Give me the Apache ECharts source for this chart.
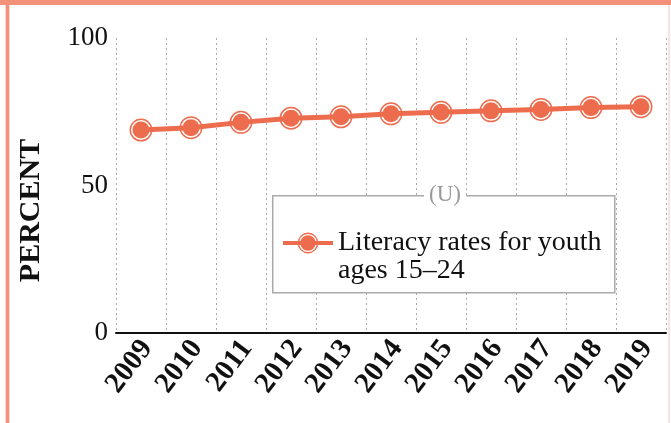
<!DOCTYPE html>
<html>
<head>
<meta charset="utf-8">
<script src="https://cdn.jsdelivr.net/npm/echarts@6/dist/echarts.min.js"></script>
<style>
  html, body { margin: 0; padding: 0; background: #fff; }
  #chart { width: 671px; height: 423px; }
</style>
</head>
<body>
<div id="chart"></div>
<script>
// Youth literacy rate, percent
const years = ['2009', '2010', '2011', '2012', '2013', '2014', '2015', '2016', '2017', '2018', '2019'];
const literacyRates = [68.8, 69.6, 71.4, 72.8, 73.3, 74.3, 74.8, 75.3, 75.8, 76.4, 76.7];
const yTicks = [0, 50, 100];

const seriesName = 'Literacy rates for youth ages 15–24';
const serif = '"Liberation Serif", "DejaVu Serif", serif';
const accent = '#EC6C4D';
const frame = '#F4917A';

// Marker: solid disk inside a thin ring (ring drawn with reversed winding for the hole)
const ringMarker = 'path://' +
  'M0 11.5A11.5 11.5 0 1 0 23 11.5A11.5 11.5 0 1 0 0 11.5Z' +
  'M1.5 11.5A10 10 0 1 1 21.5 11.5A10 10 0 1 1 1.5 11.5Z' +
  'M3 11.5A8.5 8.5 0 1 0 20 11.5A8.5 8.5 0 1 0 3 11.5Z';

const chart = echarts.init(document.getElementById('chart'), null, { renderer: 'canvas' });

chart.setOption({
  animation: false,
  backgroundColor: '#fff',
  textStyle: { fontFamily: serif },
  grid: { left: 116, right: 5, top: 38, bottom: 90, containLabel: false },
  xAxis: {
    type: 'category',
    data: years,
    boundaryGap: true,
    axisLine: { show: true, lineStyle: { color: '#111', width: 2 } },
    axisTick: { show: false },
    axisLabel: {
      interval: 0,
      rotate: 53,
      margin: 6,
      // an empty leading line nudges each slanted year down-right of its slot centre
      formatter: (v) => '\n' + v,
      lineHeight: 15,
      fontFamily: serif,
      fontWeight: 'bold',
      fontSize: 29,
      color: '#111'
    },
    splitLine: {
      show: true,
      interval: 0,
      lineStyle: { color: '#aaa', width: 1, type: [2, 3] }
    }
  },
  yAxis: {
    type: 'value',
    min: yTicks[0],
    max: yTicks[yTicks.length - 1],
    interval: yTicks[1] - yTicks[0],
    name: 'PERCENT',
    nameLocation: 'middle',
    nameRotate: 90,
    nameGap: 70,
    nameTextStyle: {
      fontFamily: serif,
      fontWeight: 'bold',
      fontSize: 30,
      color: '#111',
      padding: [0, 50, 0, 0]
    },
    axisLine: { show: false },
    axisTick: { show: false },
    splitLine: { show: false },
    axisLabel: { fontFamily: serif, fontSize: 27, color: '#111', margin: 8 }
  },
  legend: {
    show: true,
    left: 281,
    top: 201,
    padding: 0,
    itemWidth: 50,
    itemHeight: 26,
    selectedMode: false,
    data: [seriesName],
    lineStyle: { width: 4 },
    // first line sits level with the icon, the second wraps below it
    formatter: () => '\nLiteracy rates for youth\nages 15–24',
    textStyle: {
      fontFamily: serif,
      fontSize: 28,
      lineHeight: 28,
      color: '#111'
    }
  },
  series: [{
    name: seriesName,
    type: 'line',
    data: literacyRates,
    symbol: ringMarker,
    symbolSize: 23,
    lineStyle: { color: accent, width: 5 },
    itemStyle: { color: accent }
  }],
  graphic: [
    // page frame: top band, left rule, faint right edge
    { type: 'rect', left: 0, top: 0, shape: { width: 671, height: 5 }, style: { fill: frame }, z: 10 },
    { type: 'rect', left: 6, top: 0, shape: { width: 3, height: 423 }, style: { fill: frame }, z: 10 },
    { type: 'rect', left: 5, top: 0, shape: { width: 5, height: 423 }, style: { fill: '#fbd9cf' }, z: 9 },
    { type: 'rect', left: 668, top: 0, shape: { width: 2, height: 423 }, style: { fill: '#fbe3dd' }, z: 9 },
    // legend box with its caption
    {
      type: 'rect',
      left: 272, top: 195,
      shape: { width: 342, height: 97 },
      style: { fill: '#fff', stroke: '#aaa', lineWidth: 1.5 },
      z: 3
    },
    {
      type: 'text',
      x: 445, y: 195,
      style: {
        text: '(U)',
        fontFamily: serif,
        fontSize: 23,
        fill: '#999',
        align: 'center',
        verticalAlign: 'middle',
        backgroundColor: '#fff',
        padding: [0, 5]
      },
      z: 4
    }
  ]
});
</script>
</body>
</html>
